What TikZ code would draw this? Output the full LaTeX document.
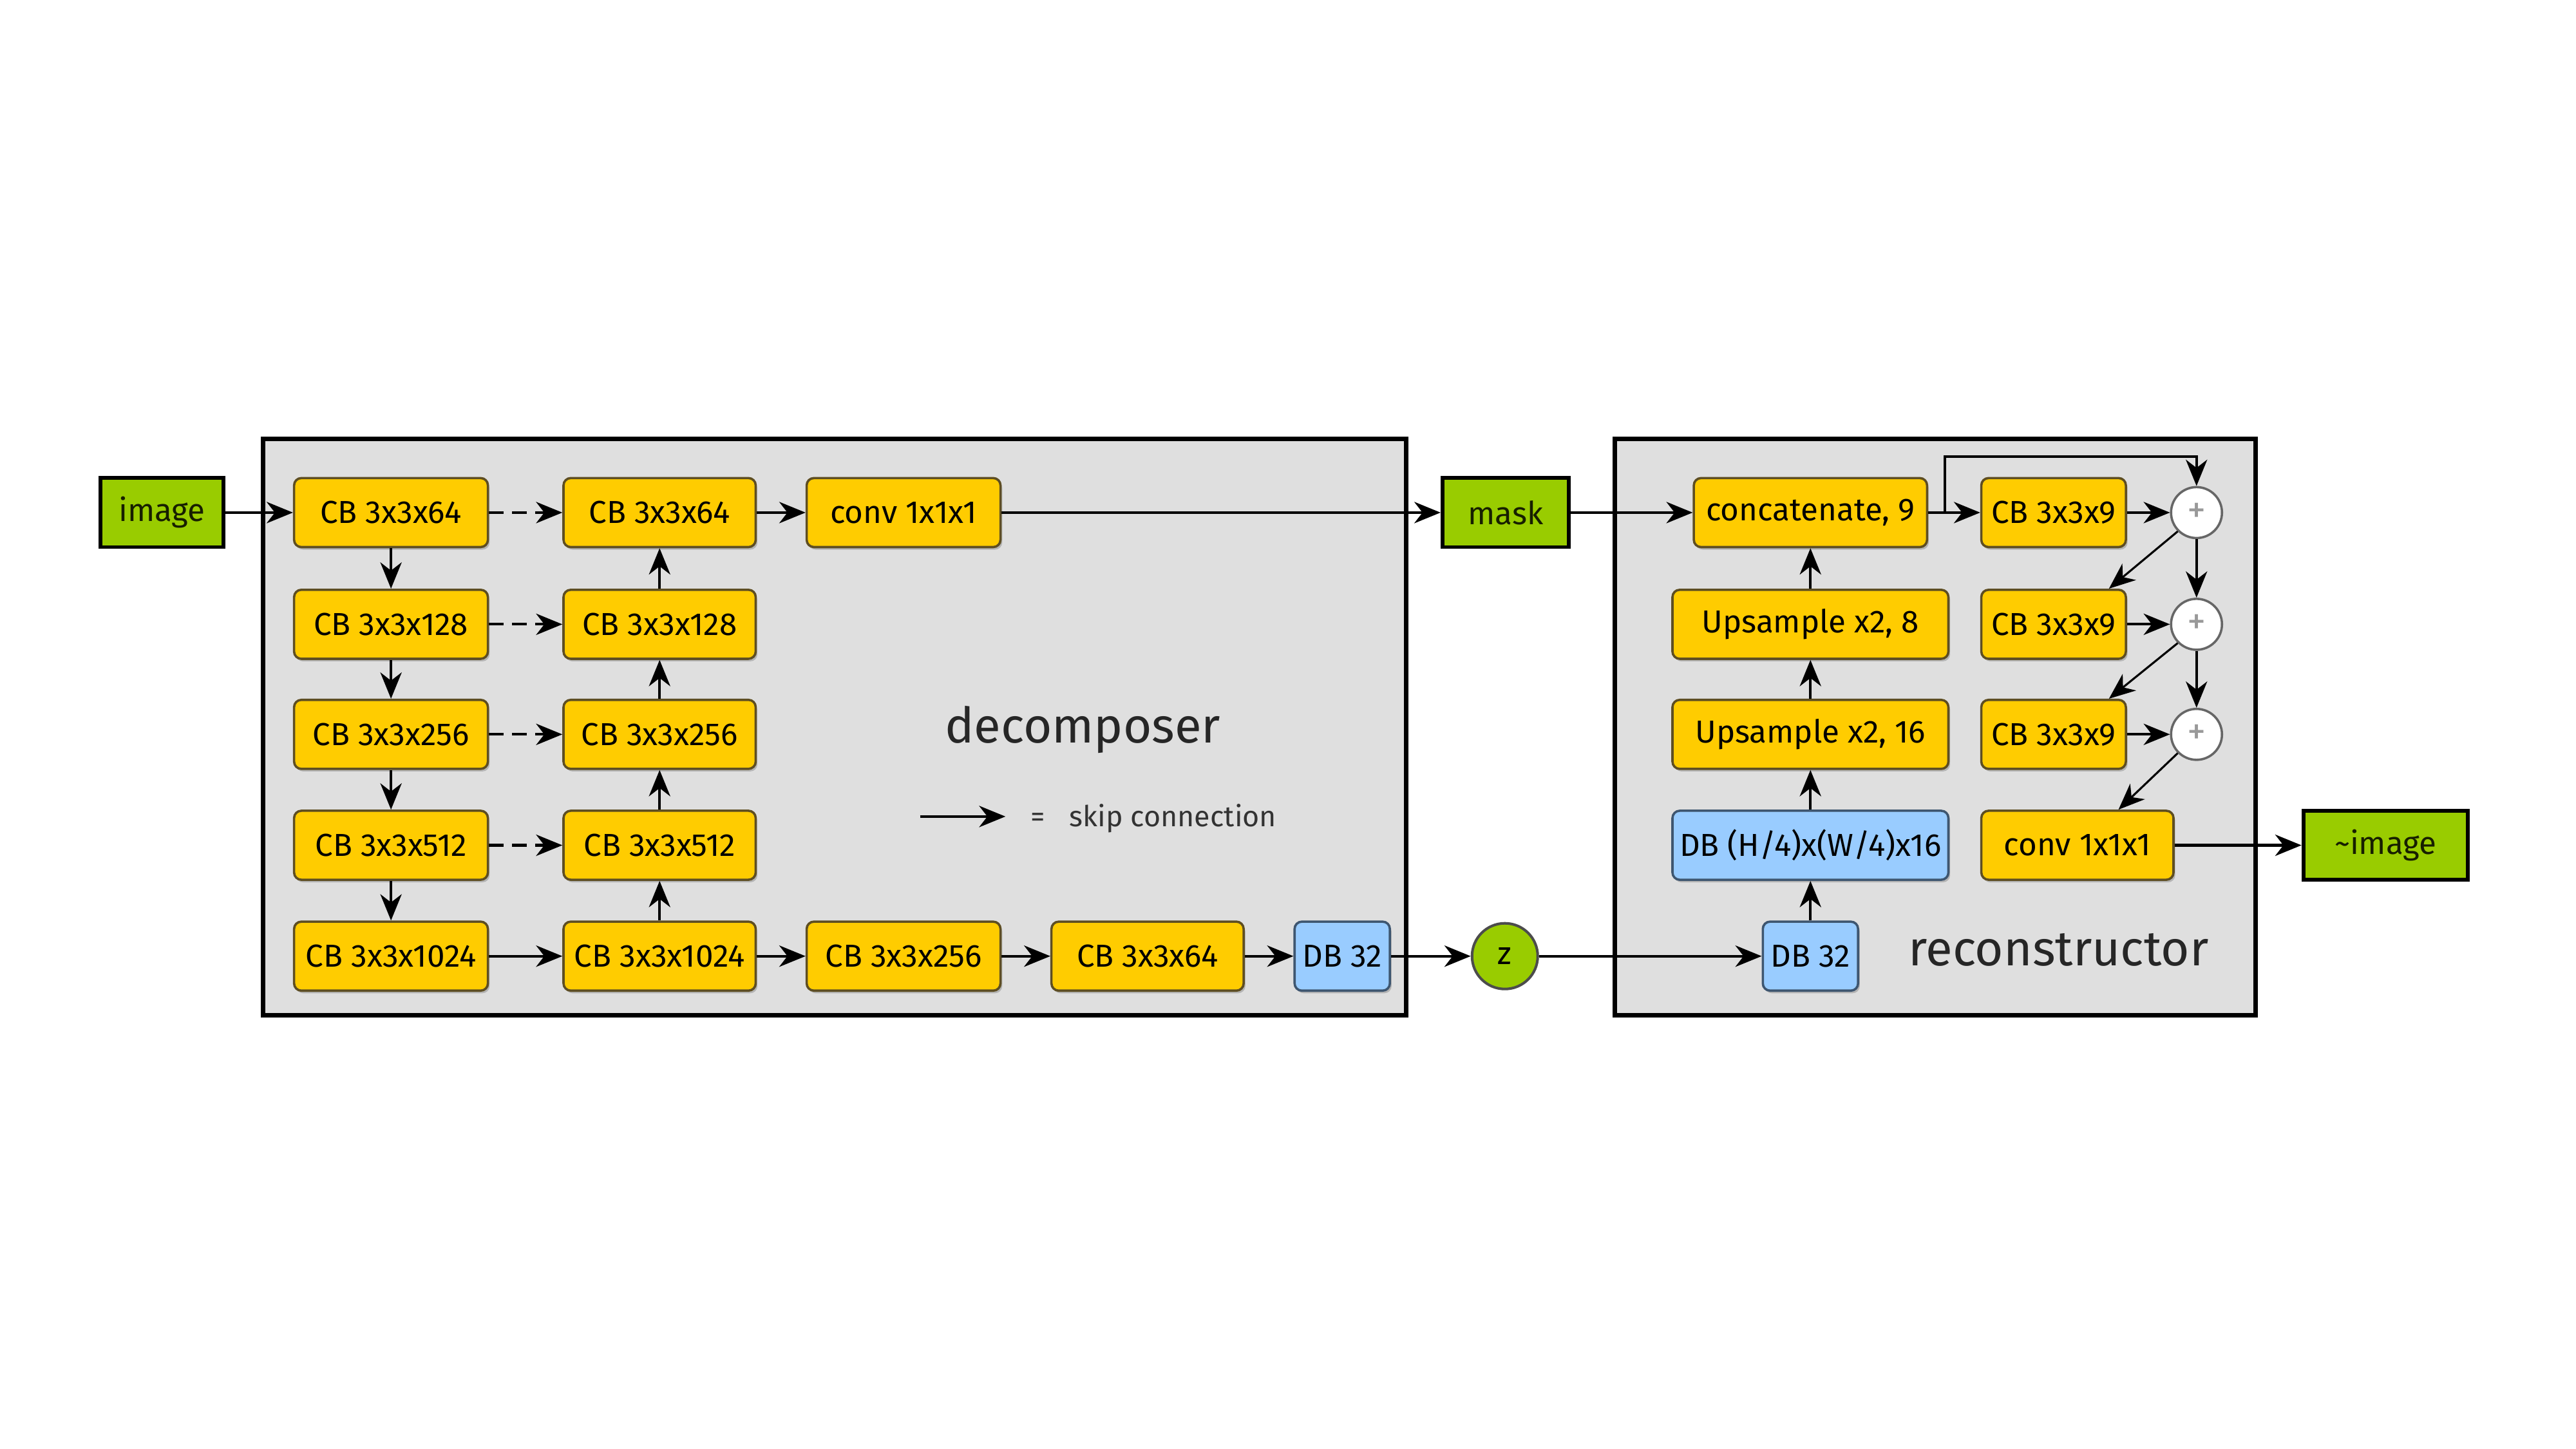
\documentclass[tikz,border=0pt]{standalone}
\usepackage{fontspec}
\setmainfont{Fira Sans}
\usetikzlibrary{arrows.meta,shadows,calc}
\definecolor{cbyellow}{HTML}{FFCC00}
\definecolor{dbblue}{HTML}{99CCFF}
\definecolor{iogreen}{HTML}{99CC00}
\definecolor{framegray}{HTML}{DFDFDF}
\definecolor{boxedge}{HTML}{5E4E22}
\definecolor{blueedge}{HTML}{3E5670}
\tikzset{
  arr/.style={line width=0.9pt,-{Stealth[length=0.32cm,width=0.26cm,inset=0.1cm]}},
  skiparr/.style={arr,dash pattern=on 5pt off 3pt},
  blk/.style={rectangle,rounded corners=2.5pt,draw=boxedge,line width=0.8pt,
    minimum height=0.84cm,inner sep=0pt,font=\fontsize{11}{13}\selectfont,
    drop shadow={shadow xshift=0.6pt,shadow yshift=-0.9pt,opacity=0.35,fill=black!60}},
  cb/.style={blk,fill=cbyellow},
  db/.style={blk,fill=dbblue,draw=blueedge},
  io/.style={rectangle,fill=iogreen,draw=black,line width=1.3pt,minimum height=0.84cm,
    inner sep=0pt,font=\fontsize{11}{13}\selectfont,text=black!85!iogreen},
  frm/.style={rectangle,fill=framegray,draw=black,line width=1.5pt,inner sep=0pt},
  plus/.style={circle,fill=white,draw=black!60,line width=0.8pt,minimum size=0.62cm,inner sep=0pt,
    text=black!40,font=\fontsize{13}{14}\selectfont},
}
\begin{document}
\begin{tikzpicture}[x=0.02cm,y=-0.02cm]
\useasboundingbox[fill=white] (0,0) rectangle (1568,882);
% frames
\node[frm,minimum width=13.92cm,minimum height=7.02cm] (dec) at (508,442.5) {};
\node[frm,minimum width=7.8cm,minimum height=7.02cm] (rec) at (1178,442.5) {};
\node[font=\fontsize{17}{20}\selectfont,text=black!85] (dectxt) at (659,444) {decomposer};
\node[font=\fontsize{17}{20}\selectfont,text=black!85] (rectxt) at (1253,578) {reconstructor};
% legend
\coordinate (lga) at (560,497);
\coordinate (lgb) at (612,497);
\draw[arr] (lga) -- (lgb);
\node[font=\fontsize{10}{12}\selectfont,text=black!80,anchor=west] (lgt) at (621,498) {=\hspace{0.3cm}skip connection};
% io
\node[io,minimum width=1.5cm] (img) at (98.5,312) {image};
\node[io,minimum width=1.54cm] (mask) at (916.5,312) {mask};
\node[io,minimum width=2cm] (out) at (1452,514.5) {\textasciitilde image};
\node[circle,fill=iogreen,draw=black!70,line width=0.9pt,minimum size=0.8cm,inner sep=0pt,
  font=\fontsize{11}{13}\selectfont] (z) at (916,582) {z};
% decomposer col1
\node[cb,minimum width=2.36cm] (a1) at (238,312) {CB 3x3x64};
\node[cb,minimum width=2.36cm] (a2) at (238,380) {CB 3x3x128};
\node[cb,minimum width=2.36cm] (a3) at (238,447) {CB 3x3x256};
\node[cb,minimum width=2.36cm] (a4) at (238,514.5) {CB 3x3x512};
\node[cb,minimum width=2.36cm] (a5) at (238,582) {CB 3x3x1024};
% col2
\node[cb,minimum width=2.34cm] (b1) at (401.5,312) {CB 3x3x64};
\node[cb,minimum width=2.34cm] (b2) at (401.5,380) {CB 3x3x128};
\node[cb,minimum width=2.34cm] (b3) at (401.5,447) {CB 3x3x256};
\node[cb,minimum width=2.34cm] (b4) at (401.5,514.5) {CB 3x3x512};
\node[cb,minimum width=2.34cm] (b5) at (401.5,582) {CB 3x3x1024};
% others
\node[cb,minimum width=2.36cm] (c1) at (550,312) {conv 1x1x1};
\node[cb,minimum width=2.36cm] (c5) at (550,582) {CB 3x3x256};
\node[cb,minimum width=2.34cm] (d5) at (698.5,582) {CB 3x3x64};
\node[db,minimum width=1.16cm] (e5) at (817,582) {DB 32};
% decomposer connectors
\draw[arr] (img) -- (a1);
\foreach \i/\j in {1/2,2/3,3/4,4/5}{
  \draw[arr] (a\i) -- (a\j);
  \draw[arr] (b\j) -- (b\i);
  \draw[skiparr] (a\i) -- (b\i);
}
\draw[arr] (a5) -- (b5);
\draw[arr] (b1) -- (c1);
\draw[arr] (b5) -- (c5);
\draw[arr] (c5) -- (d5);
\draw[arr] (d5) -- (e5);
\draw[arr] (e5) -- (z);
\draw[arr] (c1) -- (mask);
% reconstructor
\node[cb,minimum width=2.84cm] (cat) at (1102,312) {concatenate, 9};
\node[cb,minimum width=3.36cm] (u8) at (1102,380) {Upsample x2, 8};
\node[cb,minimum width=3.36cm] (u16) at (1102,447) {Upsample x2, 16};
\node[db,minimum width=3.36cm] (dbh) at (1102,514.5) {DB (H/4)x(W/4)x16};
\node[db,minimum width=1.16cm] (db32) at (1102,582) {DB 32};
\node[cb,minimum width=1.76cm] (r1) at (1250,312) {CB 3x3x9};
\node[cb,minimum width=1.76cm] (r2) at (1250,380) {CB 3x3x9};
\node[cb,minimum width=1.76cm] (r3) at (1250,447) {CB 3x3x9};
\node[cb,minimum width=2.34cm] (cv) at (1264.5,514.5) {conv 1x1x1};
\node[plus] (p1) at (1337,312) {+};
\node[plus] (p2) at (1337,380) {+};
\node[plus] (p3) at (1337,447) {+};
% reconstructor connectors
\draw[arr] (mask) -- (cat);
\draw[arr] (z) -- (db32);
\draw[arr] (db32) -- (dbh);
\draw[arr] (dbh) -- (u16);
\draw[arr] (u16) -- (u8);
\draw[arr] (u8) -- (cat);
\draw[arr] (cat) -- (r1);
\coordinate (br) at (1184,312);
\coordinate (lp) at (1184,278);
\draw[arr] (br) -- (lp) -| (p1.north);
\draw[arr] (r1) -- (p1);
\draw[arr] (r2) -- (p2);
\draw[arr] (r3) -- (p3);
\draw[arr] (p1) -- (p2);
\draw[arr] (p2) -- (p3);
\draw[arr,line width=0.7pt] (p1.south west) -- ($(r2.north east)+(-11,0)$);
\draw[arr,line width=0.7pt] (p2.south west) -- ($(r3.north east)+(-11,0)$);
\draw[arr,line width=0.7pt] (p3.south west) -- ($(cv.north)+(25,0)$);
\draw[arr] (cv) -- (out);
\end{tikzpicture}
\end{document}
